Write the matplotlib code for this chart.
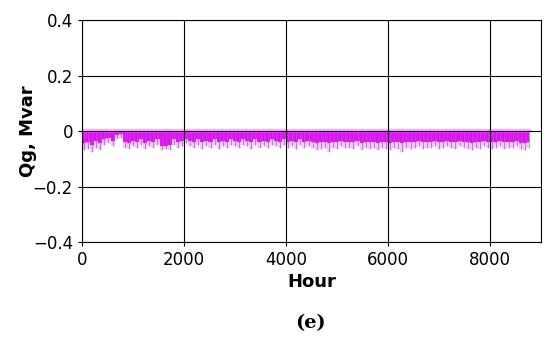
import numpy as np
import matplotlib.pyplot as plt

# hourly reactive power, summarised in 80 h bins
bin_width = 80
hours = np.arange(0, 8760, bin_width)

# deepest spike in each bin, Mvar
q_min = [-0.070, -0.065, -0.075, -0.060, -0.070,
         -0.050, -0.045, -0.055, -0.030,
         -0.025, -0.060, -0.065, -0.055,
         -0.060, -0.050, -0.065, -0.055, -0.060, -0.050,
         -0.070, -0.065, -0.070,
         -0.050, -0.060, -0.055,
         -0.045, -0.055, -0.060, -0.050, -0.065,
         -0.055, -0.060, -0.050, -0.065, -0.055,
         -0.060, -0.050, -0.055, -0.060, -0.050,
         -0.055, -0.065, -0.050, -0.060, -0.055,
         -0.060, -0.050, -0.055, -0.060, -0.050,
         -0.060, -0.055, -0.065, -0.050, -0.060,
         -0.055, -0.060, -0.070, -0.065, -0.060,
         -0.075, -0.060, -0.065, -0.055, -0.060,
         -0.060, -0.065, -0.055, -0.070, -0.060,
         -0.065, -0.060, -0.070, -0.060, -0.065,
         -0.070, -0.060, -0.065, -0.075, -0.060,
         -0.065, -0.060, -0.055, -0.065, -0.060,
         -0.060, -0.055, -0.065, -0.060, -0.055,
         -0.060, -0.065, -0.055, -0.060, -0.065,
         -0.070, -0.060, -0.065, -0.055, -0.060,
         -0.065, -0.060, -0.055, -0.065, -0.060,
         -0.060, -0.055, -0.065, -0.070, -0.060]

# typical (dense) level in each bin, Mvar
q_typ = [-0.045, -0.040, -0.050, -0.035, -0.045,
         -0.030, -0.025, -0.035, -0.015,
         -0.012, -0.040, -0.045, -0.035,
         -0.040, -0.030, -0.045, -0.035, -0.040, -0.030,
         -0.055, -0.055, -0.050,
         -0.030, -0.040, -0.035,
         -0.030, -0.035, -0.040, -0.030, -0.040,
         -0.035, -0.040, -0.030, -0.040, -0.035,
         -0.040, -0.030, -0.035, -0.040, -0.030,
         -0.035, -0.040, -0.030, -0.040, -0.035,
         -0.040, -0.030, -0.035, -0.040, -0.030,
         -0.040, -0.035, -0.040, -0.030, -0.040,
         -0.035, -0.040, -0.045, -0.040, -0.040,
         -0.045, -0.040, -0.040, -0.035, -0.040,
         -0.040, -0.040, -0.035, -0.045, -0.040,
         -0.040, -0.040, -0.045, -0.040, -0.040,
         -0.045, -0.040, -0.040, -0.045, -0.040,
         -0.040, -0.040, -0.035, -0.040, -0.040,
         -0.040, -0.035, -0.040, -0.040, -0.035,
         -0.040, -0.040, -0.035, -0.040, -0.040,
         -0.045, -0.040, -0.040, -0.035, -0.040,
         -0.040, -0.040, -0.035, -0.040, -0.040,
         -0.040, -0.035, -0.045, -0.045, -0.040]

x_ticks = [0, 2000, 4000, 6000, 8000]
y_ticks = [-0.4, -0.2, 0, 0.2, 0.4]
y_labels = ['\u22120.4', '\u22120.2', '0', '0.2', '0.4']

fig = plt.figure(figsize=(5.5, 3.47), dpi=100)
ax = fig.add_axes([0.149, 0.3026, 0.835, 0.6397])

edges = np.append(hours, 8760)
lo = np.append(q_min, q_min[-1])
mid = np.append(q_typ, q_typ[-1])

# light halo down to the spikes, then thin purple streaks, then the dense band
ax.fill_between(edges, lo, 0, step='post', color='#f6c8fa', lw=0)
ax.vlines(hours + bin_width / 2, q_min, 0, color='#b050d8', lw=0.6, alpha=0.8)
ax.fill_between(edges, mid, 0, step='post', color='#f010f8', lw=0)
ax.vlines(hours + bin_width / 4, q_typ, 0, color='#a020e8', lw=0.5, alpha=0.7)
ax.plot([0, 8760], [0.003, 0.003], color='#ffb0ff', lw=2.5)

ax.set_xlim(0, 9000)
ax.set_ylim(-0.4, 0.4)
ax.set_xticks(x_ticks)
ax.set_yticks(y_ticks)
ax.set_yticklabels(y_labels)
ax.tick_params(labelsize=12, length=3, width=0.8)
ax.grid(color='black', lw=0.8)
ax.set_axisbelow(False)

ax.set_xlabel('Hour', fontsize=13, fontweight='bold', labelpad=3)
ax.set_ylabel('Qg, Mvar', fontsize=13, fontweight='bold', labelpad=-3)

fig.text(0.564, 0.07, '(e)', fontsize=14, fontweight='bold', family='DejaVu Serif',
         ha='center', va='center')

fig.savefig('out.png', dpi=100)
